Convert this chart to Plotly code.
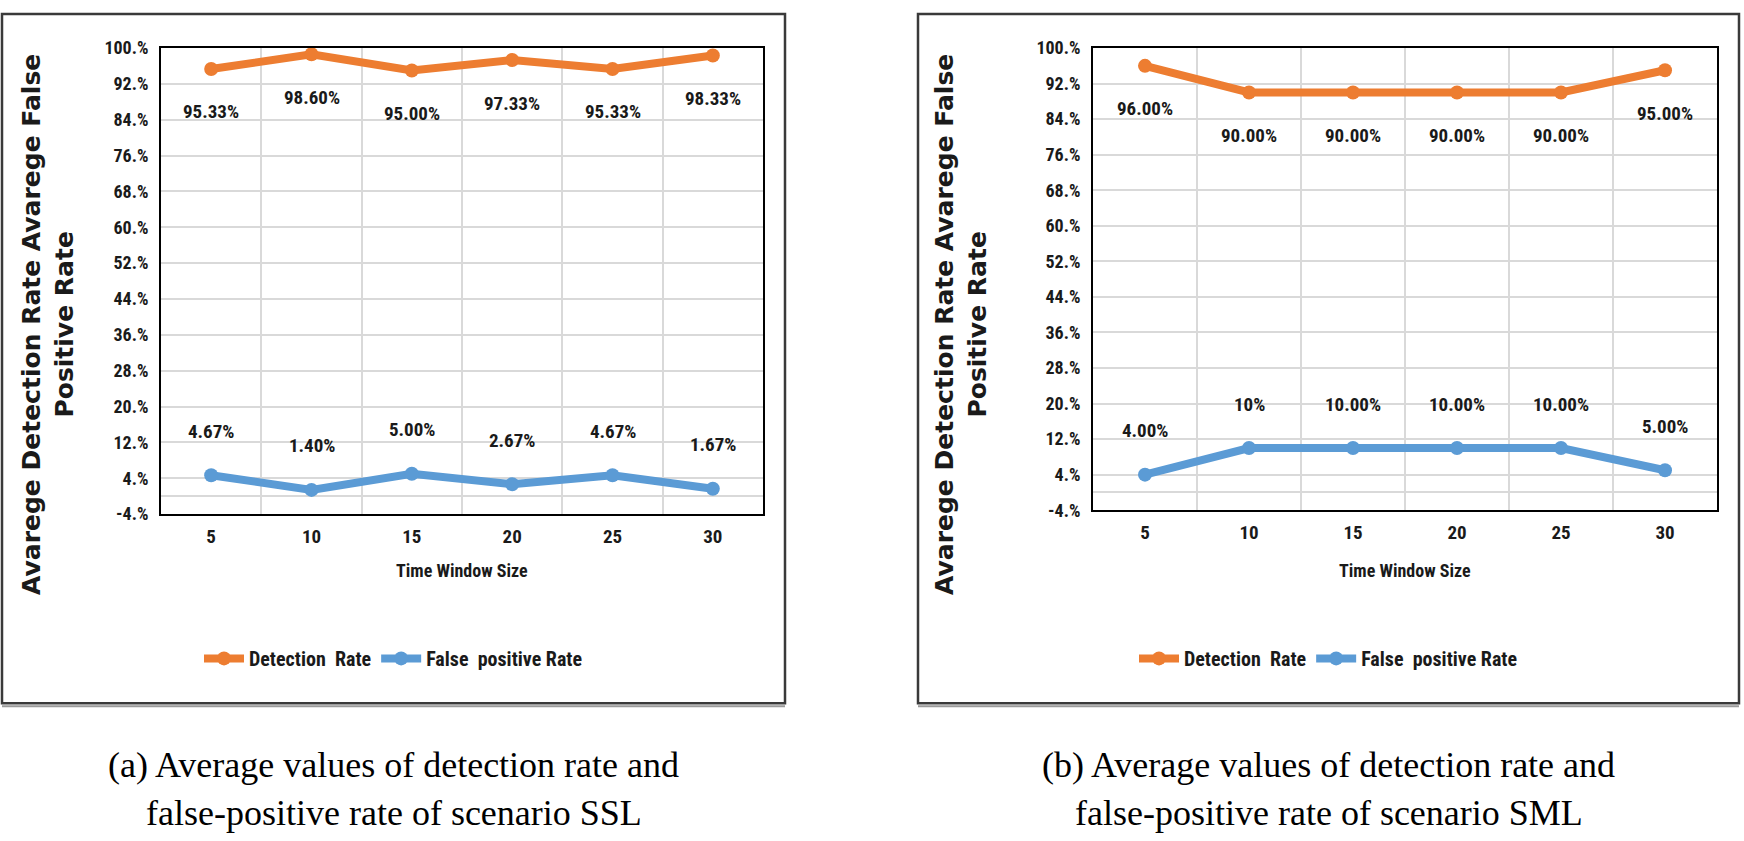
import plotly.graph_objects as go

# ---------------- data ----------------
windows = ["5", "10", "15", "20", "25", "30"]

ssl_detection = [95.33, 98.60, 95.00, 97.33, 95.33, 98.33]
ssl_detection_labels = ["95.33%", "98.60%", "95.00%", "97.33%", "95.33%", "98.33%"]
ssl_fpr = [4.67, 1.40, 5.00, 2.67, 4.67, 1.67]
ssl_fpr_labels = ["4.67%", "1.40%", "5.00%", "2.67%", "4.67%", "1.67%"]

sml_detection = [96.00, 90.00, 90.00, 90.00, 90.00, 95.00]
sml_detection_labels = ["96.00%", "90.00%", "90.00%", "90.00%", "90.00%", "95.00%"]
sml_fpr = [4.00, 10.00, 10.00, 10.00, 10.00, 5.00]
sml_fpr_labels = ["4.00%", "10%", "10.00%", "10.00%", "10.00%", "5.00%"]

y_ticks = [-4, 4, 12, 20, 28, 36, 44, 52, 60, 68, 76, 84, 92, 100]
y_tick_text = ["-4.%", "4.%", "12.%", "20.%", "28.%", "36.%", "44.%", "52.%",
               "60.%", "68.%", "76.%", "84.%", "92.%", "100.%"]

series_names = ["Detection\u00a0 Rate", "False\u00a0 positive Rate"]
y_title = "Avarege Detection Rate Avarege False<br>Positive Rate"
x_title = "Time Window Size"
captions = [
    ["(a) Average values of detection rate and", "false-positive rate of scenario SSL"],
    ["(b) Average values of detection rate and", "false-positive rate of scenario SML"],
]

# ---------------- style ----------------
W, H = 1744, 841
ORANGE = "#ED7D31"
BLUE = "#5B9BD5"
GRID = "#D9D9D9"
NARROW = "Liberation Sans Narrow, Arial Narrow, Roboto Condensed, Roboto, sans-serif"
TICKFONT = dict(family=NARROW, size=18, color="#1a1a1a", weight="bold")
XTICKFONT = dict(family=NARROW, size=19, color="#1a1a1a", weight="bold")
LABELFONT = dict(family=NARROW, size=19, color="#1a1a1a", weight="bold")


def fx(p):
    return p / W


def fy(p):
    return 1 - p / H


panels = [
    dict(ax="", x0=161, x1=763, y0=38, y1=516, box=(2, 785), dr=ssl_detection,
         drl=ssl_detection_labels, fp=ssl_fpr, fpl=ssl_fpr_labels, ytx=48, legend="legend"),
    dict(ax="2", x0=1093, x1=1717, y0=38, y1=512, box=(918, 1739), dr=sml_detection,
         drl=sml_detection_labels, fp=sml_fpr, fpl=sml_fpr_labels, ytx=961, legend="legend2"),
]

fig = go.Figure()
annotations = []
shapes = []
layout = {}

for k, p in enumerate(panels):
    xa = "x" + p["ax"]
    ya = "y" + p["ax"]
    for vals, color, name in [(p["dr"], ORANGE, series_names[0]), (p["fp"], BLUE, series_names[1])]:
        fig.add_trace(go.Scatter(
            x=windows, y=vals, name=name, mode="lines+markers",
            line=dict(color=color, width=8),
            marker=dict(color=color, size=14),
            xaxis=xa, yaxis=ya, legend=p["legend"],
        ))
    layout["xaxis" + p["ax"]] = dict(
        domain=[fx(p["x0"]), fx(p["x1"])], anchor=ya, type="category",
        tickson="boundaries", range=[-0.5, 5.5],
        showgrid=True, gridcolor=GRID, gridwidth=1.5,
        showline=True, linecolor="black", linewidth=2, mirror=True,
        ticks="", tickfont=XTICKFONT, ticklabelstandoff=4, fixedrange=True,
    )
    layout["yaxis" + p["ax"]] = dict(
        domain=[fy(p["y1"]), fy(p["y0"])], anchor=xa, range=[-4, 100],
        tickvals=y_ticks, ticktext=y_tick_text,
        showgrid=True, gridcolor=GRID, gridwidth=1.5,
        zeroline=True, zerolinecolor=GRID, zerolinewidth=1.5,
        showline=True, linecolor="black", linewidth=2, mirror=True,
        ticks="", tickfont=TICKFONT, ticklabelstandoff=7, fixedrange=True,
    )
    # data labels (x given as category index on the category axis)
    for i, (v, t) in enumerate(zip(p["dr"], p["drl"])):
        annotations.append(dict(x=i, y=v, xref=xa, yref=ya, text=t, showarrow=False,
                                yshift=-43, font=LABELFONT))
    for i, (v, t) in enumerate(zip(p["fp"], p["fpl"])):
        annotations.append(dict(x=i, y=v, xref=xa, yref=ya, text=t, showarrow=False,
                                yshift=44, font=LABELFONT))
    # axis titles
    annotations.append(dict(x=fx((p["x0"] + p["x1"]) / 2), y=fy(574), xref="paper", yref="paper",
                            text=x_title, showarrow=False, xanchor="center", yanchor="middle",
                            font=dict(family=NARROW, size=18, color="#1a1a1a", weight="bold")))
    annotations.append(dict(x=fx(p["ytx"]), y=fy(322), xref="paper", yref="paper",
                            text=y_title, showarrow=False, textangle=-90,
                            xanchor="center", yanchor="middle",
                            font=dict(family="DejaVu Sans", size=25, color="#1a1a1a", weight="bold")))
    # captions
    bx0, bx1 = p["box"]
    cx = (bx0 + bx1) / 2
    for line, yy in zip(captions[k], [773, 823]):
        annotations.append(dict(x=fx(cx), y=fy(yy), xref="paper", yref="paper", text=line,
                                showarrow=False, xanchor="center", yanchor="middle",
                                font=dict(family="Liberation Serif", size=36, color="black")))
    # frame
    shapes.append(dict(type="rect", xref="paper", yref="paper", x0=fx(bx0), x1=fx(bx1),
                       y0=fy(710), y1=fy(3), line=dict(color="#3a3a3a", width=2.5)))
    shapes.append(dict(type="line", xref="paper", yref="paper", x0=fx(bx0), x1=fx(bx1),
                       y0=fy(713), y1=fy(713), line=dict(color="#9a9a9a", width=2)))
    layout[p["legend"]] = dict(
        orientation="h", x=fx(cx), xanchor="center", y=fy(664), yanchor="middle",
        font=dict(family=NARROW, size=20, color="#1a1a1a", weight="bold"),
        itemwidth=40, bgcolor="rgba(0,0,0,0)", tracegroupgap=0,
    )

fig.update_layout(
    width=W, height=H, margin=dict(l=0, r=0, t=0, b=0),
    paper_bgcolor="white", plot_bgcolor="white",
    showlegend=True, annotations=annotations, shapes=shapes, **layout,
)

fig.write_html("out.html", config={"displayModeBar": False},
               post_script="document.body.style.margin='0';document.body.style.overflow='hidden';")
